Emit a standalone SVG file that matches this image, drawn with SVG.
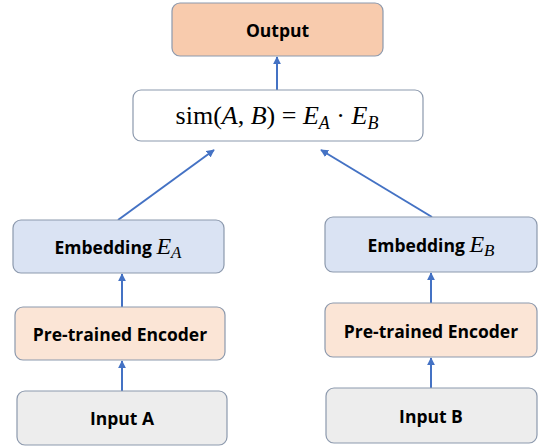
<svg xmlns="http://www.w3.org/2000/svg" width="542" height="447" viewBox="0 0 542 447">
<defs>
<style>
.box{stroke:#8C99AD;stroke-width:1.2}
.out{fill:#F8CBAD}
.sim{fill:#FFFFFF}
.emb{fill:#DAE3F3}
.enc{fill:#FBE5D6}
.inp{fill:#EDEDED}
.lbl{font-family:"Open Sans","Liberation Sans",sans-serif;font-weight:bold;font-size:17.5px;fill:#000;text-anchor:middle;dominant-baseline:central}
.math{font-family:"Liberation Serif","DejaVu Serif",serif;fill:#000}
.edge{stroke:#4472C4;stroke-width:2;fill:none;marker-end:url(#ah)}
</style>
<marker id="ah" viewBox="0 0 10 10" refX="9" refY="5" markerWidth="4" markerHeight="4" orient="auto" markerUnits="strokeWidth">
<path d="M0,0 L10,5 L0,10 z" fill="#4472C4"/>
</marker>
</defs>
<rect width="542" height="447" fill="#FFFFFF"/>
<g id="connectors">
<line class="edge" x1="277" y1="90" x2="277" y2="57"/>
<line class="edge" x1="118" y1="220" x2="214" y2="150"/>
<line class="edge" x1="432" y1="217" x2="321" y2="150"/>
<line class="edge" x1="122" y1="307" x2="122" y2="274"/>
<line class="edge" x1="122" y1="391" x2="122" y2="361"/>
<line class="edge" x1="431" y1="303" x2="431" y2="273"/>
<line class="edge" x1="431" y1="388" x2="431" y2="358"/>
</g>
<g id="output">
<rect class="box out" x="172" y="3" width="211" height="53" rx="8"/>
<text class="lbl" x="277.5" y="29.5">Output</text>
</g>
<g id="similarity">
<rect class="box sim" x="133" y="90" width="290" height="51" rx="8"/>
<text class="math" x="277" y="124" font-size="26" text-anchor="middle">sim(<tspan font-style="italic">A</tspan>, <tspan font-style="italic">B</tspan>) = <tspan font-style="italic">E</tspan><tspan font-style="italic" font-size="18" dy="5">A</tspan><tspan dy="-5"> · </tspan><tspan font-style="italic">E</tspan><tspan font-style="italic" font-size="18" dy="5">B</tspan></text>
</g>
<g id="embeddingA">
<rect class="box emb" x="13" y="220" width="211" height="53" rx="8"/>
<text x="118" y="253.5" text-anchor="middle"><tspan font-family="Open Sans, Liberation Sans, sans-serif" font-weight="bold" font-size="17.5">Embedding </tspan><tspan class="math" font-style="italic" font-size="24">E</tspan><tspan class="math" font-style="italic" font-size="17" dy="4">A</tspan></text>
</g>
<g id="encoderA">
<rect class="box enc" x="15" y="307" width="210" height="53" rx="8"/>
<text class="lbl" x="120" y="333.5">Pre-trained Encoder</text>
</g>
<g id="inputA">
<rect class="box inp" x="17" y="391" width="210" height="54" rx="8"/>
<text class="lbl" x="122" y="418">Input A</text>
</g>
<g id="embeddingB">
<rect class="box emb" x="325" y="217" width="212" height="55" rx="8"/>
<text x="431" y="251.5" text-anchor="middle"><tspan font-family="Open Sans, Liberation Sans, sans-serif" font-weight="bold" font-size="17.5">Embedding </tspan><tspan class="math" font-style="italic" font-size="24">E</tspan><tspan class="math" font-style="italic" font-size="17" dy="4">B</tspan></text>
</g>
<g id="encoderB">
<rect class="box enc" x="325" y="303" width="212" height="54" rx="8"/>
<text class="lbl" x="431" y="330.5">Pre-trained Encoder</text>
</g>
<g id="inputB">
<rect class="box inp" x="326" y="388" width="211" height="55" rx="8"/>
<text class="lbl" x="431" y="416">Input B</text>
</g>
</svg>
